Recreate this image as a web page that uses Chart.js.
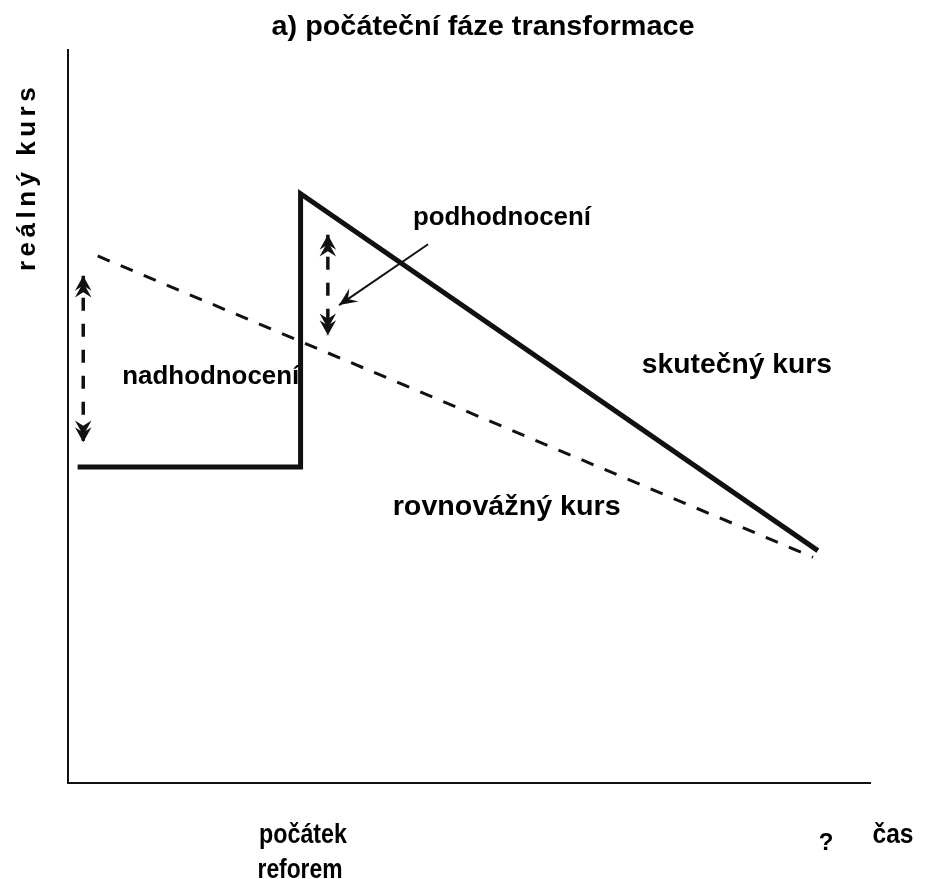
<!DOCTYPE html>
<html>
<head>
<meta charset="utf-8">
<script src="https://cdn.jsdelivr.net/npm/chart.js@4"></script>
<style>
  html, body { margin: 0; padding: 0; background: #fff; }
  #wrap { width: 931px; height: 879px; position: relative; }
</style>
</head>
<body>
<div id="wrap"><canvas id="chart"></canvas></div>
<script>
// skutečný kurs (čas, reálný kurs)
const actualX = [1.2, 29.0, 29.0, 93.5];
const actualY = [43.1, 43.1, 80.4, 31.7];
// rovnovážný kurs
const equilX = [3.7, 92.9];
const equilY = [71.9, 30.8];
// šipky
const overArrowX = [1.9, 1.9];
const overArrowY = [69.2, 46.5];
const underArrowX = [32.4, 32.4];
const underArrowY = [74.8, 61.1];
const pointerX = [44.9, 33.8];
const pointerY = [73.5, 65.2];

const FONT = '"Liberation Sans", Arial, sans-serif';

function pts(xs, ys) {
    return xs.map((x, i) => ({ x: x, y: ys[i] }));
}

// popisky v souřadnicích grafu (size = velikost písma, w = šířka textu v px)
const labels = [
    { text: 'podhodnocení', x: 54.1, y: 76.1, size: 26, w: 178 },
    { text: 'nadhodnocení', x: 17.8, y: 54.4, size: 26, w: 177 },
    { text: 'skutečný kurs', x: 83.4, y: 55.9, size: 27, w: 190 },
    { text: 'rovnovážný kurs', x: 54.7, y: 36.6, size: 27, w: 228 }
];

// text roztažený na danou šířku
function stretchText(ctx, text, cx, cy, width) {
    const m = ctx.measureText(text).width;
    ctx.save();
    ctx.translate(cx, cy);
    ctx.scale(width / m, 1);
    ctx.fillText(text, 0, 0);
    ctx.restore();
}

// dvojitý hrot šipky
function arrowHead(ctx, x, y, angle, size) {
    ctx.save();
    ctx.translate(x, y);
    ctx.rotate(angle);
    ctx.fillStyle = '#111';
    for (let k = 0; k < 2; k++) {
        const o = -k * size * 0.45;
        ctx.beginPath();
        ctx.moveTo(o, 0);
        ctx.lineTo(o - size, -size * 0.55);
        ctx.lineTo(o - size * 0.65, 0);
        ctx.lineTo(o - size, size * 0.55);
        ctx.closePath();
        ctx.fill();
    }
    ctx.restore();
}

function singleHead(ctx, x, y, angle, size) {
    ctx.save();
    ctx.translate(x, y);
    ctx.rotate(angle);
    ctx.fillStyle = '#111';
    ctx.beginPath();
    ctx.moveTo(0, 0);
    ctx.lineTo(-size, -size * 0.45);
    ctx.lineTo(-size * 0.6, 0);
    ctx.lineTo(-size, size * 0.45);
    ctx.closePath();
    ctx.fill();
    ctx.restore();
}

const decorPlugin = {
    id: 'decor',
    afterDatasetsDraw(chart) {
        const ctx = chart.ctx;
        const sx = chart.scales.x, sy = chart.scales.y;
        const P = (x, y) => [sx.getPixelForValue(x), sy.getPixelForValue(y)];

        // hroty šipek
        let a = P(overArrowX[0], overArrowY[0]);
        arrowHead(ctx, a[0], a[1], -Math.PI / 2, 15);
        a = P(overArrowX[1], overArrowY[1]);
        arrowHead(ctx, a[0], a[1], Math.PI / 2, 15);
        a = P(underArrowX[0], underArrowY[0]);
        arrowHead(ctx, a[0], a[1], -Math.PI / 2, 15);
        a = P(underArrowX[1], underArrowY[1]);
        arrowHead(ctx, a[0], a[1], Math.PI / 2, 15);
        const p0 = P(pointerX[0], pointerY[0]);
        const p1 = P(pointerX[1], pointerY[1]);
        singleHead(ctx, p1[0], p1[1], Math.atan2(p1[1] - p0[1], p1[0] - p0[0]), 18);

        ctx.save();
        ctx.fillStyle = '#000';
        ctx.textAlign = 'center';
        ctx.textBaseline = 'alphabetic';
        labels.forEach(l => {
            const q = P(l.x, l.y);
            ctx.font = 'bold ' + l.size + 'px ' + FONT;
            stretchText(ctx, l.text, q[0], q[1], l.w);
        });

        // titulek
        ctx.font = 'bold 28px ' + FONT;
        stretchText(ctx, 'a) počáteční fáze transformace', 483, 35, 423);

        // popisky osy x
        ctx.font = 'bold 27px ' + FONT;
        stretchText(ctx, 'počátek', 303, 843, 88);
        stretchText(ctx, 'reforem', 300, 878, 85);
        stretchText(ctx, 'čas', 893, 843, 41);
        ctx.font = 'bold 24px ' + FONT;
        ctx.fillText('?', 826, 850);

        // popisek osy y
        ctx.translate(35, 179);
        ctx.rotate(-Math.PI / 2);
        ctx.font = 'bold 26px ' + FONT;
        ctx.letterSpacing = '4.5px';
        ctx.fillText('reálný kurs', 2, 0);
        ctx.restore();
    }
};

const ctx = document.getElementById('chart').getContext('2d');
new Chart(ctx, {
    type: 'line',
    data: {
        datasets: [
            {
                data: pts(actualX, actualY),
                borderColor: '#111',
                borderWidth: 5,
                borderJoinStyle: 'miter',
                pointRadius: 0,
                tension: 0
            },
            {
                data: pts(equilX, equilY),
                borderColor: '#111',
                borderWidth: 3,
                borderDash: [13, 12],
                pointRadius: 0
            },
            {
                data: pts(overArrowX, overArrowY),
                borderColor: '#111',
                borderWidth: 3.5,
                borderDash: [13, 13],
                borderDashOffset: 4,
                pointRadius: 0
            },
            {
                data: pts(underArrowX, underArrowY),
                borderColor: '#111',
                borderWidth: 3.5,
                borderDash: [13, 13],
                borderDashOffset: 4,
                pointRadius: 0
            },
            {
                data: pts(pointerX, pointerY),
                borderColor: '#111',
                borderWidth: 2,
                pointRadius: 0
            }
        ]
    },
    options: {
        responsive: true,
        maintainAspectRatio: false,
        animation: false,
        layout: { padding: { left: 68, right: 61, top: 50, bottom: 96 } },
        plugins: {
            legend: { display: false },
            title: { display: false },
            tooltip: { enabled: false }
        },
        scales: {
            x: {
                type: 'linear', min: 0, max: 100,
                ticks: { display: false },
                grid: { display: false, drawTicks: false },
                border: { display: true, color: '#111', width: 2 }
            },
            y: {
                type: 'linear', min: 0, max: 100,
                ticks: { display: false },
                grid: { display: false, drawTicks: false },
                border: { display: true, color: '#111', width: 2 }
            }
        }
    },
    plugins: [decorPlugin]
});
</script>
</body>
</html>
